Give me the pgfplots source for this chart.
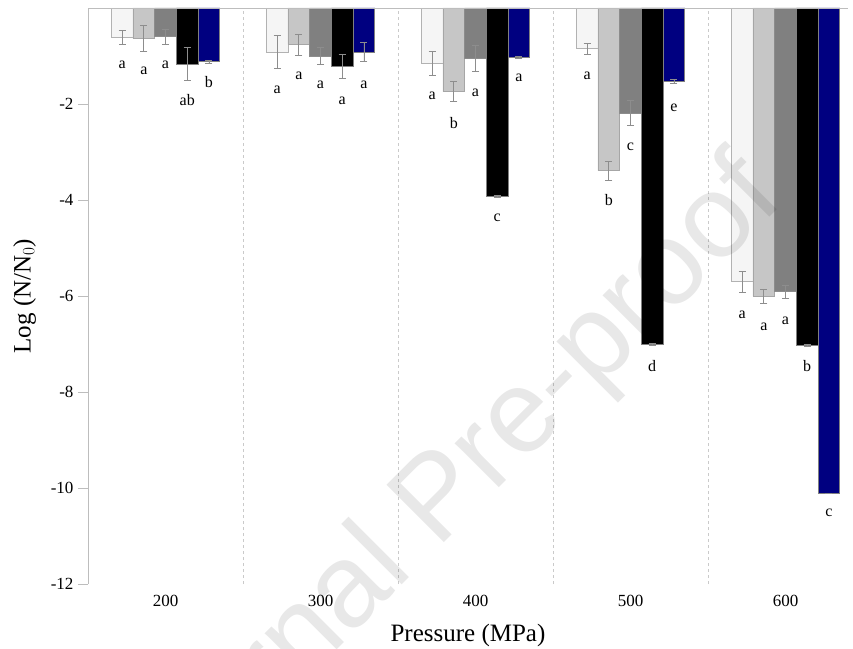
\documentclass[border=0pt]{standalone}
\usepackage{pgfplots}
\pgfplotsset{compat=1.18}
\usepackage{fontspec}
\setmainfont{Liberation Serif}
\newfontfamily\wmfont{Liberation Sans}
\definecolor{c1}{HTML}{F5F5F5}
\definecolor{c2}{HTML}{C6C6C6}
\definecolor{c3}{HTML}{808080}
\definecolor{c4}{HTML}{000000}
\definecolor{c5}{HTML}{000080}
\definecolor{axgray}{HTML}{BDBDBD}
\begin{document}
\begin{tikzpicture}
\path[use as bounding box] (-88pt,-64pt) rectangle (765pt,584pt);
\begin{axis}[
  scale only axis,
  width=760pt, height=576pt,
  xmin=-0.5, xmax=4.403,
  ymin=-12, ymax=0,
  axis y line*=left,
  axis x line*=bottom,
  x axis line style={draw=none},
  y axis line style={axgray, line width=0.8pt},
  ytick={-12,-10,-8,-6,-4,-2},
  tick align=outside,
  major tick length=10pt,
  ytick style={axgray, line width=0.8pt},
  xtick={0,1,2,3,4},
  xticklabels={200,300,400,500,600},
  xtick style={draw=none},
  extra x ticks={0.5,1.5,2.5,3.5},
  extra x tick labels={},
  extra x tick style={grid=major, major grid style={axgray!80, dash pattern=on 3pt off 3pt, line width=0.6pt}, tick style={draw=none}},
  /pgf/number format/assume math mode=true,
  ticklabel style={font=\fontsize{17}{17}\selectfont},
  xticklabel style={yshift=2pt},
  yticklabel style={xshift=-1pt},
  xlabel={Pressure (MPa)},
  ylabel={Log (N/N$_0$)},
  xlabel style={font=\fontsize{25}{25}\selectfont, yshift=10pt},
  ylabel style={font=\fontsize{25}{25}\selectfont, yshift=8pt},
  ybar, bar width=0.14,
  clip=false,
  every axis plot/.append style={
    error bars/y dir=both, error bars/y explicit,
    error bars/error bar style={c3!90, line width=0.7pt},
    error bars/error mark options={rotate=90, mark size=3.5pt, c3!90, line width=0.7pt}},
]
\addplot[bar shift=-0.28, fill=c1, draw=gray!60, line width=0.7pt] table[x=x,y=y,y error=e] {
x y e
0 -0.61 0.15
1 -0.92 0.34
2 -1.15 0.245
3 -0.85 0.12
4 -5.70 0.22
};
\addplot[bar shift=-0.14, fill=c2, draw=gray!70, line width=0.7pt] table[x=x,y=y,y error=e] {
x y e
0 -0.64 0.27
1 -0.76 0.22
2 -1.74 0.21
3 -3.39 0.20
4 -6.01 0.15
};
\addplot[bar shift=0, fill=c3, draw=gray!90, line width=0.7pt] table[x=x,y=y,y error=e] {
x y e
0 -0.60 0.15
1 -1.00 0.18
2 -1.04 0.27
3 -2.19 0.26
4 -5.91 0.14
};
\addplot[bar shift=0.14, fill=c4, draw=gray, line width=0.7pt] table[x=x,y=y,y error=e] {
x y e
0 -1.17 0.34
1 -1.21 0.25
2 -3.92 0.02
3 -7.00 0.02
4 -7.02 0.02
};
\addplot[bar shift=0.28, fill=c5, draw=gray, line width=0.7pt] table[x=x,y=y,y error=e] {
x y e
0 -1.12 0.03
1 -0.92 0.20
2 -1.03 0.02
3 -1.52 0.04
4 -10.12 0.0
};
\draw[axgray, line width=0.8pt] (rel axis cs:0,1) -- (rel axis cs:1,1);
\tikzset{lbl/.style={font=\fontsize{16}{16}\selectfont, inner sep=0pt}}
% group 200
\node[lbl] at (axis cs:-0.28,-1.19) {a};
\node[lbl] at (axis cs:-0.14,-1.31) {a};
\node[lbl] at (axis cs:0,-1.19) {a};
\node[lbl] at (axis cs:0.14,-1.92) {ab};
\node[lbl] at (axis cs:0.28,-1.54) {b};
% group 300
\node[lbl] at (axis cs:0.72,-1.71) {a};
\node[lbl] at (axis cs:0.86,-1.42) {a};
\node[lbl] at (axis cs:1,-1.60) {a};
\node[lbl] at (axis cs:1.14,-1.94) {a};
\node[lbl] at (axis cs:1.28,-1.60) {a};
% group 400
\node[lbl] at (axis cs:1.72,-1.83) {a};
\node[lbl] at (axis cs:1.86,-2.40) {b};
\node[lbl] at (axis cs:2,-1.77) {a};
\node[lbl] at (axis cs:2.14,-4.38) {c};
\node[lbl] at (axis cs:2.28,-1.46) {a};
% group 500
\node[lbl] at (axis cs:2.72,-1.42) {a};
\node[lbl] at (axis cs:2.86,-4.00) {b};
\node[lbl] at (axis cs:3,-2.89) {c};
\node[lbl] at (axis cs:3.14,-7.46) {d};
\node[lbl] at (axis cs:3.28,-2.07) {e};
% group 600
\node[lbl] at (axis cs:3.72,-6.40) {a};
\node[lbl] at (axis cs:3.86,-6.65) {a};
\node[lbl] at (axis cs:4,-6.51) {a};
\node[lbl] at (axis cs:4.14,-7.46) {b};
\node[lbl] at (axis cs:4.28,-10.52) {c};
\end{axis}
\node[rotate=45, anchor=base west, inner sep=0pt, text=black, text opacity=0.09,
      font=\fontsize{118}{118}\wmfont] at (53pt,-262pt) {Journal Pre-proof};
\end{tikzpicture}
\end{document}
